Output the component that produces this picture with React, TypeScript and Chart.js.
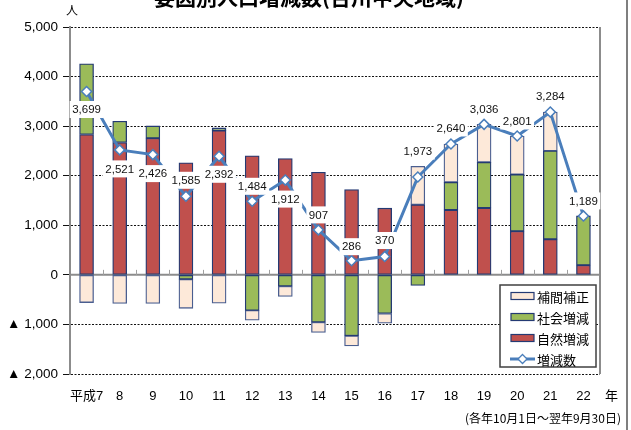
import React, { useEffect, useRef } from "react";
import { Chart, registerables } from "chart.js";

Chart.register(...registerables);

const categories = ["平成7", "8", "9", "10", "11", "12", "13", "14", "15", "16", "17", "18", "19", "20", "21", "22"];
const naturalChange = [2831, 2670, 2757, 2260, 2911, 2400, 2348, 2070, 1720, 1345, 1415, 1310, 1350, 880, 718, 195];
const socialChange = [1427, 429, 247, -90, 53, -716, -228, -955, -1230, -780, -215, 557, 920, 1146, 1783, 994];
const adjustment = [-559, -578, -578, -585, -572, -200, -208, -208, -204, -195, 773, 773, 766, 775, 783, 0];
const totalChange = [3699, 2521, 2426, 1585, 2392, 1484, 1912, 907, 286, 370, 1973, 2640, 3036, 2801, 3284, 1189];
// label offset from point (px, negative = above)
const labelOffsets = [18, 19, 19, -16, 18, -15, 19, -15, -14, -16, -26, -16, -15, -15, -16, -15];

const FONT = "'Liberation Sans', Arial, 'Noto Sans CJK JP', sans-serif";
const JFONT = "'Noto Sans CJK JP', 'Liberation Sans', sans-serif";
const RED = "#c0504d";
const GREEN = "#9bbb59";
const PEACH = "#fde9d9";
const BAR_BORDER = "#243a73";
const LINE = "#4a7ebb";

const fmt = (v: number) => Math.abs(v).toLocaleString("en-US");

const overlayPlugin = {
  id: "overlay",
  afterDatasetsDraw(chart: any) {
    const ctx = chart.ctx;
    const meta = chart.getDatasetMeta(3);
    ctx.save();
    ctx.font = `11.5px ${FONT}`;
    ctx.textAlign = "center";
    ctx.textBaseline = "middle";
    meta.data.forEach((pt: any, i: number) => {
      const text = fmt(totalChange[i]);
      const w = ctx.measureText(text).width + 5;
      const h = 17;
      const x = pt.x;
      const y = pt.y + labelOffsets[i];
      ctx.fillStyle = "#ffffff";
      ctx.fillRect(x - w / 2, y - h / 2, w, h);
      ctx.fillStyle = "#111";
      ctx.fillText(text, x, y + 0.5);
    });
    ctx.restore();
  },
  beforeDatasetsDraw(chart: any) {
    const ctx = chart.ctx;
    const area = chart.chartArea;
    const y = chart.scales.y;
    const y0 = y.getPixelForValue(0);
    ctx.save();
    ctx.strokeStyle = "#8c8c8c";
    ctx.lineWidth = 2;
    ctx.beginPath();
    ctx.moveTo(area.left, y0);
    ctx.lineTo(area.right, y0);
    ctx.stroke();
    ctx.lineWidth = 1;
    ctx.strokeStyle = "#a0a0a0";
    const n = categories.length;
    const cw = (area.right - area.left) / n;
    for (let k = 1; k < n; k++) {
      const px = Math.round(area.left + cw * k) + 0.5;
      ctx.beginPath();
      ctx.moveTo(px, y0 - 5);
      ctx.lineTo(px, y0);
      ctx.stroke();
    }
    // right border of plot
    ctx.strokeStyle = "#8c8c8c";
    ctx.lineWidth = 2;
    ctx.beginPath();
    ctx.moveTo(area.right, area.top);
    ctx.lineTo(area.right, area.bottom);
    ctx.stroke();
    ctx.restore();
  },
  afterDraw(chart: any) {
    const ctx = chart.ctx;
    ctx.save();
    // title (cut at top)
    ctx.fillStyle = "#000";
    ctx.font = `bold 21px ${JFONT}`;
    ctx.textAlign = "center";
    ctx.textBaseline = "alphabetic";
    ctx.fillText("要因別人口増減数(台川中央地域)", 309, 5);
    // unit
    ctx.font = `12px ${JFONT}`;
    ctx.textAlign = "left";
    ctx.textBaseline = "middle";
    ctx.fillText("人", 66, 10);
    // 年 after last label
    ctx.font = `13px ${JFONT}`;
    ctx.fillText("年", 605, 395);
    // note
    ctx.font = `12px ${JFONT}`;
    ctx.textAlign = "right";
    ctx.fillText("(各年10月1日～翌年9月30日)", 621, 418);
    // outer frame right
    ctx.strokeStyle = "#7f7f7f";
    ctx.lineWidth = 2;
    ctx.beginPath();
    ctx.moveTo(627, 0);
    ctx.lineTo(627, 430);
    ctx.stroke();

    // legend
    const lx = 500, ly = 285, lw = 96, lh = 82;
    ctx.fillStyle = "#fff";
    ctx.fillRect(lx, ly, lw, lh);
    ctx.strokeStyle = "#404040";
    ctx.lineWidth = 1.5;
    ctx.strokeRect(lx, ly, lw, lh);
    const items = [
      { label: "補間補正", color: PEACH, type: "bar" },
      { label: "社会増減", color: GREEN, type: "bar" },
      { label: "自然増減", color: RED, type: "bar" },
      { label: "増減数", color: LINE, type: "line" },
    ];
    ctx.font = `13px ${JFONT}`;
    ctx.textAlign = "left";
    ctx.textBaseline = "middle";
    items.forEach((it, i) => {
      const cy = ly + 11 + i * 21;
      if (it.type === "bar") {
        ctx.fillStyle = it.color;
        ctx.fillRect(511, cy - 3.5, 23, 7);
        ctx.strokeStyle = BAR_BORDER;
        ctx.lineWidth = 1.2;
        ctx.strokeRect(511, cy - 3.5, 23, 7);
      } else {
        ctx.strokeStyle = LINE;
        ctx.lineWidth = 3;
        ctx.beginPath();
        ctx.moveTo(510, cy);
        ctx.lineTo(535, cy);
        ctx.stroke();
        ctx.fillStyle = "#fff";
        ctx.lineWidth = 1.3;
        ctx.beginPath();
        ctx.moveTo(522.5, cy - 4.5);
        ctx.lineTo(527, cy);
        ctx.lineTo(522.5, cy + 4.5);
        ctx.lineTo(518, cy);
        ctx.closePath();
        ctx.fill();
        ctx.stroke();
      }
      ctx.fillStyle = "#000";
      ctx.fillText(it.label, 537, cy + 1);
    });
    ctx.restore();
  },
};

export default function App() {
  const ref = useRef<HTMLCanvasElement | null>(null);
  useEffect(() => {
    document.body.style.margin = "0";
    const canvas = ref.current!;
    const barCommon = {
      type: "bar" as const,
      stack: "bars",
      borderColor: BAR_BORDER,
      borderWidth: 1.3,
      borderSkipped: false,
      barThickness: 14,
      order: 2,
    };
    const chart = new Chart(canvas, {
      type: "bar",
      data: {
        labels: categories,
        datasets: [
          { ...barCommon, label: "自然増減", data: naturalChange, backgroundColor: RED },
          { ...barCommon, label: "社会増減", data: socialChange, backgroundColor: GREEN },
          { ...barCommon, label: "補間補正", data: adjustment, backgroundColor: PEACH, borderColor: "#4a5e90" },
          {
            type: "line",
            label: "増減数",
            data: totalChange,
            stack: "line",
            borderColor: LINE,
            borderWidth: 3,
            pointStyle: "rectRot",
            pointRadius: 5,
            pointBackgroundColor: "#ffffff",
            pointBorderColor: LINE,
            pointBorderWidth: 1.5,
            tension: 0,
            order: 0,
          } as any,
        ],
      },
      options: {
        responsive: false,
        animation: false,
        layout: { padding: { top: 27, right: 31, left: 0, bottom: 0 } },
        plugins: { legend: { display: false }, tooltip: { enabled: false }, title: { display: false } },
        scales: {
          x: {
            stacked: true,
            grid: { display: false, drawTicks: false },
            border: { display: false },
            ticks: {
              padding: 15,
              color: "#000",
              font: { family: FONT, size: 13 },
              maxRotation: 0,
              autoSkip: false,
            },
            afterFit(scale: any) {
              scale.height = 56;
            },
          },
          y: {
            stacked: true,
            min: -2000,
            max: 5000,
            ticks: {
              stepSize: 1000,
              padding: 5,
              color: "#000",
              font: { family: FONT, size: 13.5 },
              callback: (v: any) => (v < 0 ? "▲ " + fmt(v) : fmt(v)),
            },
            grid: {
              color: "#111",
              lineWidth: 1,
              tickLength: 7,
              tickColor: "#111",
            },
            border: { display: true, color: "#8c8c8c", width: 2, dash: [2, 1.5] },
            afterFit(scale: any) {
              scale.width = 70;
            },
          } as any,
        },
      },
      plugins: [overlayPlugin],
    } as any);
    return () => chart.destroy();
  }, []);
  return (
    <div style={{ position: "absolute", left: 0, top: 0, width: 631, height: 430, background: "#fff" }}>
      <canvas ref={ref} width={631} height={430} style={{ width: 631, height: 430, display: "block" }} />
    </div>
  );
}
